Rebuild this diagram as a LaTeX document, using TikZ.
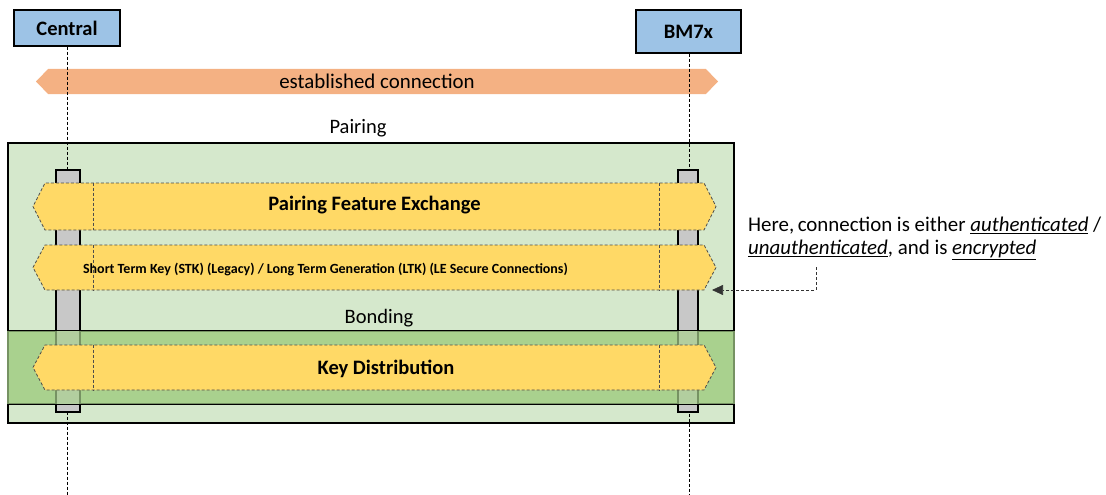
\documentclass[tikz,border=0pt]{standalone}
\usepackage{fontspec}
\setmainfont{Carlito}
\usetikzlibrary{shapes.symbols,arrows.meta}

\definecolor{partblue}{HTML}{9DC3E6}
\definecolor{connorange}{HTML}{F4B183}
\definecolor{pairgreen}{HTML}{D5E8CC}
\definecolor{bondgreen}{HTML}{A9D18E}
\definecolor{stepyellow}{HTML}{FFD966}
\definecolor{bargray}{HTML}{C8C8C8}

\tikzset{
  participant/.style={draw, line width=1.3pt, fill=partblue, inner sep=0pt,
    font=\fontsize{20.5}{24}\selectfont\bfseries},
  lifeline/.style={draw, line width=0.6pt, dash pattern=on 3pt off 2pt},
  phasebox/.style={draw, line width=1.2pt, inner sep=0pt},
  phaselabel/.style={font=\fontsize{20.5}{24}\selectfont},
  actbar/.style={draw, line width=1.2pt, fill=bargray, inner sep=0pt},
  connarrow/.style={signal, signal to=west and east, fill=connorange,
    inner sep=0pt, font=\fontsize{20.9}{24}\selectfont},
  stepsignal/.style={signal, signal to=west and east, fill=stepyellow,
    draw=black!70, line width=0.8pt, dash pattern=on 3pt off 2pt,
    inner sep=0pt, minimum width=683pt},
  steptext/.style={inner sep=0pt, font=\fontsize{20.5}{24}\selectfont\bfseries},
  splitline/.style={draw=black!70, line width=0.8pt, dash pattern=on 3pt off 2pt},
  note/.style={align=left, inner sep=0pt, font=\fontsize{20.9}{23}\selectfont},
  noteline/.style={draw=black!80, line width=0.7pt, dash pattern=on 3pt off 2pt,
    -{Triangle[length=11pt,width=10pt]}},
}

\newcommand{\ulit}[1]{\underline{\textit{#1}}}

\begin{document}
\begin{tikzpicture}[x=1pt,y=-1pt]
\useasboundingbox (0,0) rectangle (1106,495);

% participants
\node[participant, minimum width=106pt, minimum height=36pt] (central) at (67,28) {Central};
\node[participant, minimum width=105pt, minimum height=43pt] (bm) at (688.5,31.5) {BM7x};
\coordinate (central-end) at (67,495);
\coordinate (bm-end) at (689,495);

% established connection
\node[connarrow, minimum width=682pt, minimum height=25pt, signal pointer angle=92] (conn)
  at (377,81.5) {established connection};

% pairing frame
\node[phasebox, fill=pairgreen, minimum width=726pt, minimum height=280pt] (pairing) at (371,283) {};
\node[phaselabel] (pairing-label) at (358,128) {Pairing};

% bonding band, first pass
\node[phasebox, fill=bondgreen, minimum width=726pt, minimum height=73pt] (bonding) at (371,367.5) {};
\node[phaselabel] (bonding-label) at (379,318) {Bonding};

% lifelines
\draw[lifeline] (central.south) -- (central-end);
\draw[lifeline] ([xshift=0.5pt]bm.south) -- (bm-end);

% activation bars
\node[actbar, minimum width=24pt, minimum height=242pt] (central-bar) at (68,291) {};
\node[actbar, minimum width=20pt, minimum height=242pt] (bm-bar) at (688,291) {};

% bonding band, tinted over the bars
\fill[bondgreen, opacity=0.7] (bonding.north west) rectangle (bonding.south east);
\draw[line width=1.2pt] (bonding.north west) -- (bonding.north east);
\draw[line width=1.2pt] (bonding.south west) -- (bonding.south east);

% exchange steps
\coordinate (split-l) at (93,0);
\coordinate (split-r) at (659,0);

\node[stepsignal, minimum height=47pt, signal pointer angle=126] (pfe) at (374.5,206.5) {};
\node[stepsignal, minimum height=45pt, signal pointer angle=124] (stk) at (374.5,267.5) {};
\node[stepsignal, minimum height=45pt, signal pointer angle=124] (kd) at (374.5,367.5) {};

\foreach \s in {pfe,stk,kd}{
  \draw[splitline] (\s.north -| split-l) -- (\s.south -| split-l);
  \draw[splitline] (\s.north -| split-r) -- (\s.south -| split-r);
}

\node[steptext] (pfe-text) at (374.5,205.5) {Pairing Feature Exchange};
\node[steptext, font=\fontsize{14}{16}\selectfont\bfseries] (stk-text) at (325.5,269)
  {Short Term Key (STK) (Legacy) / Long Term Generation (LTK) (LE Secure Connections)};
\node[steptext] (kd-text) at (386,369) {Key Distribution};

% note on the connection state
\node[note, anchor=north west] (note) at (748,217)
  {Here,\,connection is either \ulit{authenticated} /\\
   \ulit{unauthenticated}, and is \ulit{encrypted}};
\coordinate (note-foot) at (816,267);
\coordinate (note-bend) at (816,290);
\coordinate (stk-mark) at (712,290);
\draw[noteline] (note-foot) -- (note-bend) -- (stk-mark);

\end{tikzpicture}
\end{document}
